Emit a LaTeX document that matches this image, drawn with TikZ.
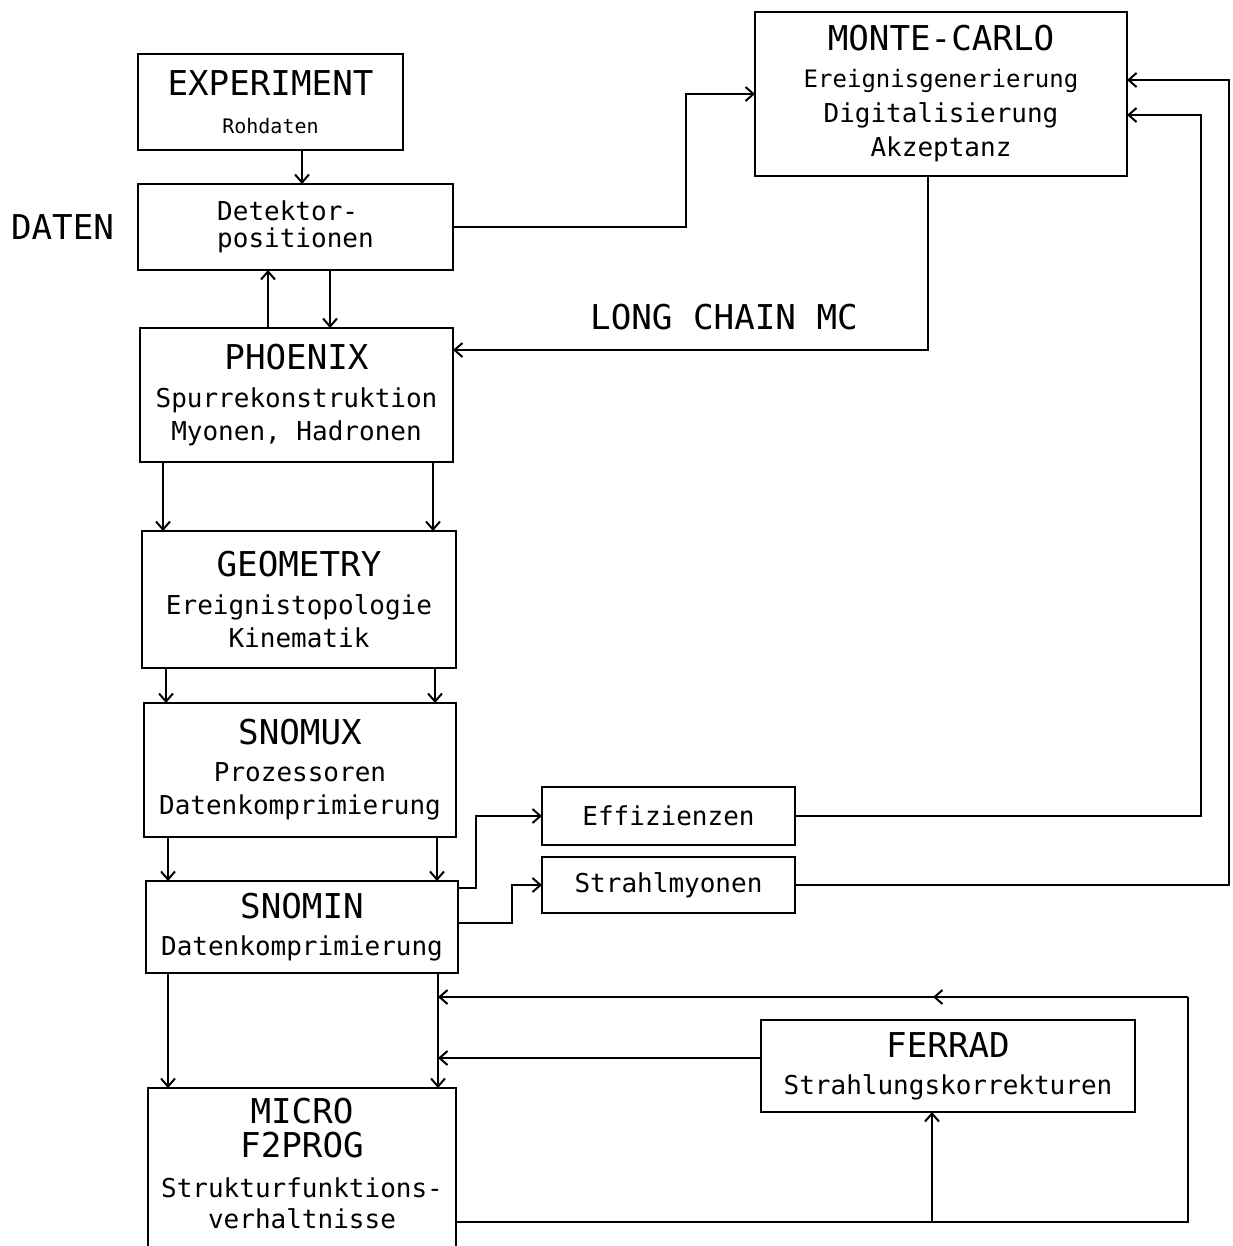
\documentclass[tikz,border=0pt]{standalone}
\usepackage{fontspec}
\setmainfont{DejaVu Sans Mono}
\usepackage{tikz}
\usetikzlibrary{shapes,arrows.meta,positioning,calc}
\newcommand{\titfont}{\fontsize{17.1}{20}\selectfont}
\newcommand{\subfont}{\fontsize{13}{16.5}\selectfont}

\begin{document}
\begin{tikzpicture}[x=0.5pt, y=-0.5pt, line width=1pt,
    >={Straight Barb[length=4pt,width=7pt]},
    box/.style={draw, rectangle, align=center, inner sep=0pt, outer sep=0pt, font=\subfont}]
    \useasboundingbox (0,0) rectangle (1232,1246);
    \clip (0,0) rectangle (1232,1246);

    \node[box, minimum width=132.5pt, minimum height=48pt] (exp) at (270.5,102) {\titfont EXPERIMENT\\[2.5pt] \fontsize{10}{12}\selectfont Rohdaten};
    \node[box, align=left, minimum width=157.5pt, minimum height=43pt, below=17pt of exp.south west, anchor=north west] (det) {Detektor-\\[-3pt] positionen};
    \node[box, minimum width=156.5pt, minimum height=67pt, below=29pt of det.south west, anchor=north west, xshift=1pt] (phx) {\titfont PHOENIX\\[2.5pt] Spurrekonstruktion\\ Myonen, Hadronen};
    \node[box, minimum width=157pt, minimum height=68.5pt, below=34.5pt of phx.south west, anchor=north west, xshift=1pt] (geo) {\titfont GEOMETRY\\[2.5pt] Ereignistopologie\\ Kinematik};
    \node[box, minimum width=156pt, minimum height=67pt, below=17.5pt of geo.south west, anchor=north west, xshift=1pt] (snx) {\titfont SNOMUX\\[2pt] Prozessoren\\ Datenkomprimierung};
    \node[box, minimum width=156pt, minimum height=46pt, below=22pt of snx.south west, anchor=north west, xshift=1pt] (snn) {\titfont SNOMIN\\[2pt] Datenkomprimierung};
    \node[box, minimum width=154pt, inner ysep=5pt, text depth=40pt, below=57.5pt of snn.south west, anchor=north west, xshift=1pt] (mic) {\titfont MICRO\\[0.5pt] \titfont F2PROG\\[3.5pt] Strukturfunktions-\\[-1pt] verhaltnisse};

    \node[box, minimum width=186pt, minimum height=82pt] (mc) at (941,94) {\titfont MONTE-CARLO\\[2pt] \fontsize{12}{14}\selectfont Ereignisgenerierung\\[1pt] Digitalisierung\\[0.5pt] Akzeptanz};
    \node[box, minimum width=126.5pt, minimum height=29pt] (eff) at (668.5,816) {Effizienzen};
    \node[box, minimum width=126.5pt, minimum height=28pt, below=6pt of eff] (str) {Strahlmyonen};
    \node[box, minimum width=187pt, minimum height=46pt] (fer) at (948,1066) {\titfont FERRAD\\[2pt] Strahlungskorrekturen};

    \node[font=\titfont, inner sep=0pt, left=11.5pt of det] (daten) {DATEN};
    \node[font=\titfont, inner sep=0pt] (lcm) at (724,317) {LONG CHAIN MC};

    \draw[->] ($(exp.south)+(31.5,0)$) coordinate (e1) -- (e1 |- det.north);
    \draw[->] ($(phx.north)+(-28.5,0)$) coordinate (p1) -- (p1 |- det.south);
    \draw[->] ($(det.south)+(34.5,0)$) coordinate (d1) -- (d1 |- phx.north);
    \draw[->] (det.east) -| ($(mc.west)+(-69,0)$) -- (mc.west);
    \draw[->] ($(mc.south)+(-13,0)$) |- ($(phx.east)+(0,-45)$);

    \draw[->] ($(phx.south)+(-133.5,0)$) coordinate (p2) -- (p2 |- geo.north);
    \draw[->] ($(phx.south)+(136.5,0)$) coordinate (p3) -- (p3 |- geo.north);
    \draw[->] ($(geo.south)+(-133,0)$) coordinate (g1) -- (g1 |- snx.north);
    \draw[->] ($(geo.south)+(136,0)$) coordinate (g2) -- (g2 |- snx.north);
    \draw[->] ($(snx.south)+(-132,0)$) coordinate (x1) -- (x1 |- snn.north);
    \draw[->] ($(snx.south)+(137,0)$) coordinate (x2) -- (x2 |- snn.north);
    \draw[->] ($(snn.south)+(-134,0)$) coordinate (s1) -- (s1 |- mic.north);
    \draw[->] ($(snn.south)+(136,0)$) coordinate (s2) -- (s2 |- mic.north);

    \draw[->] ($(snn.east)+(0,-39)$) -| ($(eff.west)+(-66,0)$) -- (eff.west);
    \draw[->] ($(snn.east)+(0,-4)$) -| ($(str.west)+(-30,0)$) -- (str.west);
    \draw[->] (eff.east) -| ($(mc.east)+(74,21)$) -- ($(mc.east)+(0,21)$);
    \draw[->] (str.east) -| ($(mc.east)+(102,-14)$) -- ($(mc.east)+(0,-14)$);

    \draw[->] ($(fer.west)+(0,-8)$) coordinate (f1) -- (f1 -| s2);
    \draw ($(mic.north east)+(0,134)$) coordinate (m1) -| ($(fer.east)+(53,-69)$) coordinate (f2);
    \draw[->] (f2) -- ($(f2)!0.34!(f2 -| s2)$);
    \draw[->] (f2) -- (f2 -| s2);
    \coordinate (f3) at ($(fer.south)+(-16,0)$);
    \draw[->] (m1 -| f3) -- (f3);
\end{tikzpicture}
\end{document}
